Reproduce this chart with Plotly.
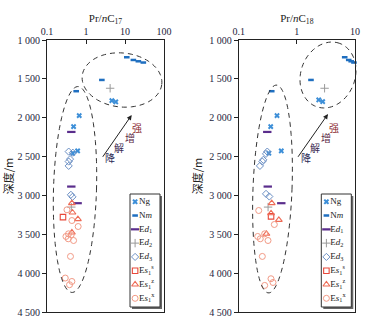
import math
import plotly.graph_objects as go

# ---------------- data ----------------
series_names = ["Ng", "Nm", "Ed1", "Ed2", "Ed3", "Es1s", "Es1z", "Es1x"]
legend_labels = ["Ng", "N<i>m</i>", "E<i>d</i><sub>1</sub>", "E<i>d</i><sub>2</sub>",
                 "E<i>d</i><sub>3</sub>", "E<i>s</i><sub>1</sub><sup>s</sup>",
                 "E<i>s</i><sub>1</sub><sup>z</sup>", "E<i>s</i><sub>1</sub><sup>x</sup>"]

# Pr/nC17 (left panel)
c17_Ng_x = [4.6, 5.8, 0.67, 0.48, 0.61, 0.46]
c17_Ng_d = [1780, 1797, 1973, 2114, 2427, 2457]
c17_Nm_x = [11.1, 16.4, 22, 29.5, 2.55, 0.56]
c17_Nm_d = [1222, 1257, 1274, 1290, 1514, 1659]
c17_Ed1_x = [0.42, 0.42, 0.61]
c17_Ed1_d = [2183, 2886, 3100]
c17_Ed2_x = [4.16, 0.42]
c17_Ed2_d = [1621, 3150]
c17_Ed3_x = [0.36, 0.46, 0.39, 0.36, 0.36, 0.41, 0.45]
c17_Ed3_d = [2436, 2450, 2533, 2564, 2620, 2992, 3018]
c17_Es1s_x = [0.257]
c17_Es1s_d = [3279]
c17_Es1z_x = [0.435, 0.45, 0.62, 0.435]
c17_Es1z_d = [3099, 3220, 3305, 3477]
c17_Es1x_x = [0.325, 0.435, 0.63, 0.306, 0.356, 0.418, 0.35, 0.48, 0.40, 0.294, 0.435, 0.378]
c17_Es1x_d = [3185, 3323, 3400, 3528, 3494, 3506, 3558, 3580, 3785, 4063, 4107, 4149]

# Pr/nC18 (right panel)
c18_Ng_x = [2.38, 2.78, 0.456, 0.355, 0.54, 0.33]
c18_Ng_d = [1771, 1793, 1973, 2114, 2427, 2457]
c18_Nm_x = [6.65, 7.8, 8.6, 9.6, 1.75, 0.37]
c18_Nm_d = [1222, 1257, 1274, 1290, 1514, 1659]
c18_Ed1_x = [0.31, 0.316, 0.54]
c18_Ed1_d = [2183, 2886, 3100]
c18_Ed2_x = [3.0, 0.32]
c18_Ed2_d = [1621, 3150]
c18_Ed3_x = [0.232, 0.255, 0.265, 0.295, 0.31, 0.295, 0.336]
c18_Ed3_d = [2620, 2564, 2542, 2465, 2436, 2980, 3014]
c18_Es1s_x = [0.36]
c18_Es1s_d = [3270]
c18_Es1z_x = [0.37, 0.36, 0.49, 0.30]
c18_Es1z_d = [3099, 3230, 3314, 3494]
c18_Es1x_x = [0.221, 0.41, 0.212, 0.235, 0.28, 0.319, 0.255, 0.28, 0.359, 0.389]
c18_Es1x_d = [3194, 3374, 3528, 3558, 3494, 3580, 3785, 4158, 4072, 4120]

depth_ticks = [1000, 1500, 2000, 2500, 3000, 3500, 4000, 4500]
depth_ticktext = ["1 000", "1 500", "2 000", "2 500", "3 000", "3 500", "4 000", "4 500"]
c17_ticks = [0.1, 1, 10, 100]
c18_ticks = [0.1, 1, 10]
trend_chars = ["降", "解", "增", "强"]

# ---------------- styles ----------------
styles = {
    "Ng":   dict(symbol="x", size=5, color="#3d8fd8", line=dict(width=0)),
    "Nm":   dict(symbol="line-ew", size=4, color="#1f6fc0", line=dict(width=2.5, color="#1f6fc0")),
    "Ed1":  dict(symbol="line-ew", size=6, color="#5a2d8c", line=dict(width=2.2, color="#5a2d8c")),
    "Ed2":  dict(symbol="cross-thin", size=6, color="#9a9a9a", line=dict(width=1, color="#9a9a9a")),
    "Ed3":  dict(symbol="diamond-open", size=5.5, color="#6b8fc4", line=dict(width=1, color="#6b8fc4")),
    "Es1s": dict(symbol="square-open", size=5.5, color="#e8483a", line=dict(width=1.1, color="#e8483a")),
    "Es1z": dict(symbol="triangle-up-open", size=6, color="#ee6a55", line=dict(width=1.1, color="#ee6a55")),
    "Es1x": dict(symbol="circle-open", size=6, color="#f29a86", line=dict(width=1, color="#f29a86")),
}

W, H = 384, 326
L, T, R, B = 47, 40, 29, 14
PW, PH = W - L - R, H - T - B


def pp(px, py):
    return (px - L) / PW, (H - B - py) / PH


fig = go.Figure()

panels = [
    ("x", "y", {
        "Ng": (c17_Ng_x, c17_Ng_d), "Nm": (c17_Nm_x, c17_Nm_d), "Ed1": (c17_Ed1_x, c17_Ed1_d),
        "Ed2": (c17_Ed2_x, c17_Ed2_d), "Ed3": (c17_Ed3_x, c17_Ed3_d), "Es1s": (c17_Es1s_x, c17_Es1s_d),
        "Es1z": (c17_Es1z_x, c17_Es1z_d), "Es1x": (c17_Es1x_x, c17_Es1x_d)}),
    ("x2", "y2", {
        "Ng": (c18_Ng_x, c18_Ng_d), "Nm": (c18_Nm_x, c18_Nm_d), "Ed1": (c18_Ed1_x, c18_Ed1_d),
        "Ed2": (c18_Ed2_x, c18_Ed2_d), "Ed3": (c18_Ed3_x, c18_Ed3_d), "Es1s": (c18_Es1s_x, c18_Es1s_d),
        "Es1z": (c18_Es1z_x, c18_Es1z_d), "Es1x": (c18_Es1x_x, c18_Es1x_d)}),
]

for xa, ya, data in panels:
    for name in series_names:
        xs, ds = data[name]
        fig.add_trace(go.Scatter(x=xs, y=ds, mode="markers", xaxis=xa, yaxis=ya,
                                 marker=styles[name], showlegend=False, cliponaxis=False))

# manual legends (compact, like the original)
for xa, ya in [("x3", "y3"), ("x4", "y4")]:
    for i, name in enumerate(series_names):
        fig.add_trace(go.Scatter(x=[0.17], y=[i], mode="markers", xaxis=xa, yaxis=ya,
                                 marker=styles[name], showlegend=False))
    fig.add_trace(go.Scatter(x=[0.3] * len(series_names), y=list(range(len(series_names))),
                             mode="text", text=legend_labels, textposition="middle right",
                             textfont=dict(family="Liberation Serif", size=9, color="#222"),
                             xaxis=xa, yaxis=ya, showlegend=False, cliponaxis=False))

axis_font = dict(family="Liberation Serif", size=10, color="#1e1e3c")
xcommon = dict(type="log", side="top", showgrid=False, zeroline=False, showline=True, mirror=True,
               linecolor="#222", linewidth=1, ticks="inside", ticklen=4, tickcolor="#222",
               tickfont=axis_font, automargin=False)
ycommon = dict(range=[4500, 1000], tickvals=depth_ticks, ticktext=depth_ticktext, showgrid=False,
               zeroline=False, showline=True, mirror=True, linecolor="#222", linewidth=1,
               ticks="outside", ticklen=4, tickcolor="#222", tickfont=axis_font, automargin=False,
               title=dict(text="深度/m", font=dict(family="Noto Sans CJK SC", size=11, color="#222"),
                          standoff=4))

x1_dom = [0, (164 - L) / PW]
x2_dom = [(238.7 - L) / PW, 1]

fig.update_layout(
    width=W, height=H, margin=dict(l=L, r=R, t=T, b=B),
    paper_bgcolor="white", plot_bgcolor="rgba(0,0,0,0)",
    showlegend=False,
    xaxis=dict(xcommon, domain=x1_dom, range=[-1, 2], tickvals=c17_ticks,
               ticktext=[str(v) for v in c17_ticks], anchor="y",
               title=dict(text="Pr/<i>n</i>C<sub>17</sub>",
                          font=dict(family="Liberation Serif", size=11, color="#222"), standoff=0)),
    yaxis=dict(ycommon, domain=[0, 1], anchor="x"),
    xaxis2=dict(xcommon, domain=x2_dom, range=[-1, 1], tickvals=c18_ticks,
                ticktext=[str(v) for v in c18_ticks], anchor="y2",
                title=dict(text="Pr/<i>n</i>C<sub>18</sub>",
                           font=dict(family="Liberation Serif", size=11, color="#222"), standoff=0)),
    yaxis2=dict(ycommon, domain=[0, 1], anchor="x2"),
    xaxis3=dict(domain=[(130 - L) / PW, (160 - L) / PW], range=[0, 1], visible=False, anchor="y3"),
    yaxis3=dict(domain=[(H - B - 307) / PH, (H - B - 194) / PH], range=[7.63, -0.56], visible=False, anchor="x3"),
    xaxis4=dict(domain=[(321.3 - L) / PW, (351.3 - L) / PW], range=[0, 1], visible=False, anchor="y4"),
    yaxis4=dict(domain=[(H - B - 307) / PH, (H - B - 194) / PH], range=[7.63, -0.56], visible=False, anchor="x4"),
)

shapes = []
# legend boxes with shadow
for x0 in (130, 321.3):
    a0, b0 = pp(x0 + 2, 196)
    a1, b1 = pp(x0 + 32, 309)
    shapes.append(dict(type="rect", xref="paper", yref="paper", x0=a0, y0=b1, x1=a1, y1=b0,
                       fillcolor="#666", line=dict(width=0), layer="below"))
    a0, b0 = pp(x0, 194)
    a1, b1 = pp(x0 + 30, 307)
    shapes.append(dict(type="rect", xref="paper", yref="paper", x0=a0, y0=b1, x1=a1, y1=b0,
                       fillcolor="white", line=dict(width=1, color="#333"), layer="below"))


def ellipse(cx, cy, a, b, theta_deg, n=90):
    th = math.radians(theta_deg)
    pts = []
    for k in range(n + 1):
        t = 2 * math.pi * k / n
        x = cx + a * math.cos(t) * math.cos(th) - b * math.sin(t) * math.sin(th)
        y = cy - (a * math.cos(t) * math.sin(th) + b * math.sin(t) * math.cos(th))
        pts.append(pp(x, y))
    path = "M " + " L ".join(f"{u:.5f},{v:.5f}" for u, v in pts) + " Z"
    return dict(type="path", xref="paper", yref="paper", path=path,
                line=dict(color="#333", width=1, dash="5px,4px"))


shapes.append(ellipse(122, 80, 40, 27, -6))
shapes.append(ellipse(75, 189.5, 21.5, 103, -1.7))
shapes.append(ellipse(328, 75, 33.7, 27.1, 69.5))
shapes.append(ellipse(272.5, 189, 19.5, 104, -2.2))
fig.update_layout(shapes=shapes)

annotations = []
char_colors = ["#2a2a55", "#3a2a50", "#5a2a45", "#8a2a30"]
for (tail, head, chars_pos) in [
    ((101.7, 158.3), (131.7, 115), [(110, 157.5), (118.5, 147), (129.5, 137.0), (137, 127.5)]),
    ((297, 158.3), (328, 114), [(306, 157.5), (315, 147), (326, 137.0), (333.5, 127.5)]),
]:
    hx, hy = pp(*head)
    annotations.append(dict(x=hx, y=hy, xref="paper", yref="paper", ax=tail[0] - head[0],
                            ay=tail[1] - head[1], axref="pixel", ayref="pixel", text="",
                            showarrow=True, arrowhead=2, arrowsize=1, arrowwidth=1, arrowcolor="#222"))
    for ch, (cx, cy), col in zip(trend_chars, chars_pos, char_colors):
        u, v = pp(cx, cy)
        annotations.append(dict(x=u, y=v, xref="paper", yref="paper", text=ch, showarrow=False,
                                xanchor="center", yanchor="middle",
                                font=dict(family="Noto Sans CJK SC", size=10, color=col)))
fig.update_layout(annotations=annotations)

fig.write_html("out.html")
